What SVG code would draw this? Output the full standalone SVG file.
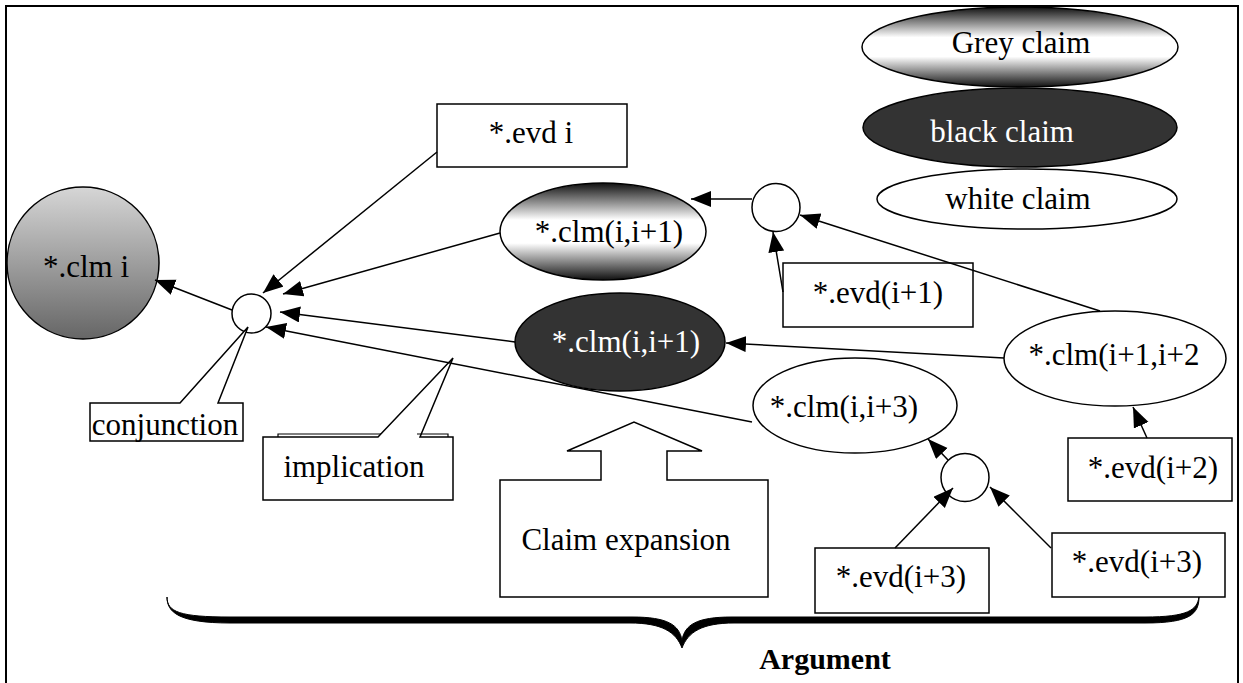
<svg xmlns="http://www.w3.org/2000/svg" width="1243" height="683" viewBox="0 0 1243 683">
<defs>
<linearGradient id="gCircle" x1="0" y1="0" x2="0" y2="1">
<stop offset="0" stop-color="#d6d6d6"/>
<stop offset="1" stop-color="#666666"/>
</linearGradient>
<linearGradient id="gGrey" x1="0" y1="0" x2="0" y2="1">
<stop offset="0" stop-color="#111111"/>
<stop offset="0.38" stop-color="#ffffff"/>
<stop offset="0.62" stop-color="#ffffff"/>
<stop offset="1" stop-color="#111111"/>
</linearGradient>
<marker id="arr" markerUnits="userSpaceOnUse" markerWidth="22" markerHeight="18" refX="20" refY="8" orient="auto">
<path d="M0,0 L20,8 L0,16 Z" fill="#000"/>
</marker>
</defs>
<style>
text{font-family:"Liberation Serif","Times New Roman",serif;font-size:31px;fill:#000;text-anchor:middle}
.w{fill:#fff}
.b{font-weight:bold;font-size:30px}
.box{fill:#fff;stroke:#000;stroke-width:1.5}
.wc{fill:#fff;stroke:#000;stroke-width:1.5}
.grey{fill:url(#gGrey);stroke:#000;stroke-width:1.5}
.blk{fill:#333;stroke:#000;stroke-width:1.5}
.con line{stroke:#000;stroke-width:1.5;marker-end:url(#arr)}
</style>
<rect x="6" y="6" width="1232" height="690" fill="#fff" stroke="#000" stroke-width="2"/>

<g id="legend-grey"><ellipse class="grey" cx="1020" cy="47" rx="158" ry="40"/><text x="1021" y="53">Grey claim</text></g>
<g id="legend-black"><ellipse class="blk" cx="1020" cy="127.5" rx="157" ry="39.5"/><text class="w" x="1002" y="142">black claim</text></g>
<g id="legend-white"><ellipse class="wc" cx="1027" cy="199" rx="150" ry="30"/><text x="1018" y="209">white claim</text></g>

<g id="clm-i"><circle cx="83" cy="263" r="76" fill="url(#gCircle)" stroke="#000" stroke-width="1.5"/><text x="86" y="277">*.clm i</text></g>
<g id="conj1"><circle class="wc" cx="251.5" cy="313.5" r="19.5"/></g>
<g id="evd-i"><rect class="box" x="437" y="104" width="190" height="63"/><text x="531" y="143">*.evd i</text></g>
<g id="clm-grey"><ellipse class="grey" cx="603" cy="231.5" rx="103" ry="48.5"/><text x="609" y="242">*.clm(i,i+1)</text></g>
<g id="clm-black"><ellipse class="blk" cx="620" cy="342" rx="105" ry="49"/><text class="w" x="626" y="352">*.clm(i,i+1)</text></g>
<g id="conj2"><circle class="wc" cx="776" cy="207.5" r="24"/></g>
<g id="evd-i1"><rect class="box" x="783" y="263" width="190" height="64"/><text x="878" y="303">*.evd(i+1)</text></g>
<g id="clm-i1-i2"><ellipse class="wc" cx="1115" cy="358.5" rx="111" ry="47.5"/><text x="1114" y="365">*.clm(i+1,i+2</text></g>
<g id="evd-i2"><rect class="box" x="1068" y="438" width="164" height="63"/><text x="1153" y="478">*.evd(i+2)</text></g>
<g id="clm-i3"><ellipse class="wc" cx="855" cy="405.5" rx="102" ry="47.5"/><text x="844" y="417">*.clm(i,i+3)</text></g>
<g id="conj3"><circle class="wc" cx="965" cy="477.5" r="24"/></g>
<g id="evd-i3-left"><rect class="box" x="815" y="548" width="174" height="65"/><text x="901" y="587">*.evd(i+3)</text></g>
<g id="evd-i3-right"><rect class="box" x="1052" y="533" width="173" height="64"/><text x="1137" y="572">*.evd(i+3)</text></g>

<g id="callout-conjunction"><path class="box" d="M90,403 L180,403 L248,327 L218,403 L243,403 L243,441 L90,441 Z"/><text x="165" y="435">conjunction</text></g>
<g id="callout-implication"><path class="box" d="M263,437 L378,437 L453,358 L420,437 L453,437 L453,500 L263,500 Z"/><path d="M278,437 L278,434 L381,434 M417,434 L448,434 L448,437" fill="none" stroke="#000" stroke-width="1.2"/><text x="354" y="477">implication</text></g>
<g id="claim-expansion"><path class="box" d="M500,480 L601,480 L601,451 L567,451 L634,422 L702,451 L667,451 L667,480 L768,480 L768,597 L500,597 Z"/><text x="626" y="550">Claim expansion</text></g>

<g id="argument-brace">
<path d="M167,597 C167,612 180,617 230,617 L632,617 C668,617 679,625 682,640 C685,625 696,617 732,617 L1145,617 C1188,617 1197,610 1199,597 C1199,614 1190,623 1145,623 L734,623 C702,623 688,632 682,648 C676,632 662,623 630,623 L230,623 C178,623 167,612 167,597 Z" fill="#000" stroke="#000" stroke-width="1"/>
<text class="b" x="825" y="669">Argument</text>
</g>

<g id="connectors" class="con">
<line x1="232" y1="310" x2="155" y2="280"/>
<line x1="437" y1="152" x2="263" y2="293"/>
<line x1="500" y1="233" x2="283" y2="294"/>
<line x1="515" y1="342" x2="280" y2="312"/>
<line x1="752" y1="422" x2="266" y2="327"/>
<line x1="752" y1="199" x2="691" y2="199"/>
<line x1="783" y1="292" x2="773" y2="232"/>
<line x1="1100" y1="311" x2="800" y2="215"/>
<line x1="1004" y1="358" x2="726" y2="343"/>
<line x1="1147" y1="438" x2="1133" y2="407"/>
<line x1="948" y1="460" x2="928" y2="439"/>
<line x1="895" y1="548" x2="953" y2="488"/>
<line x1="1051" y1="548" x2="990" y2="487"/>
</g>
</svg>
